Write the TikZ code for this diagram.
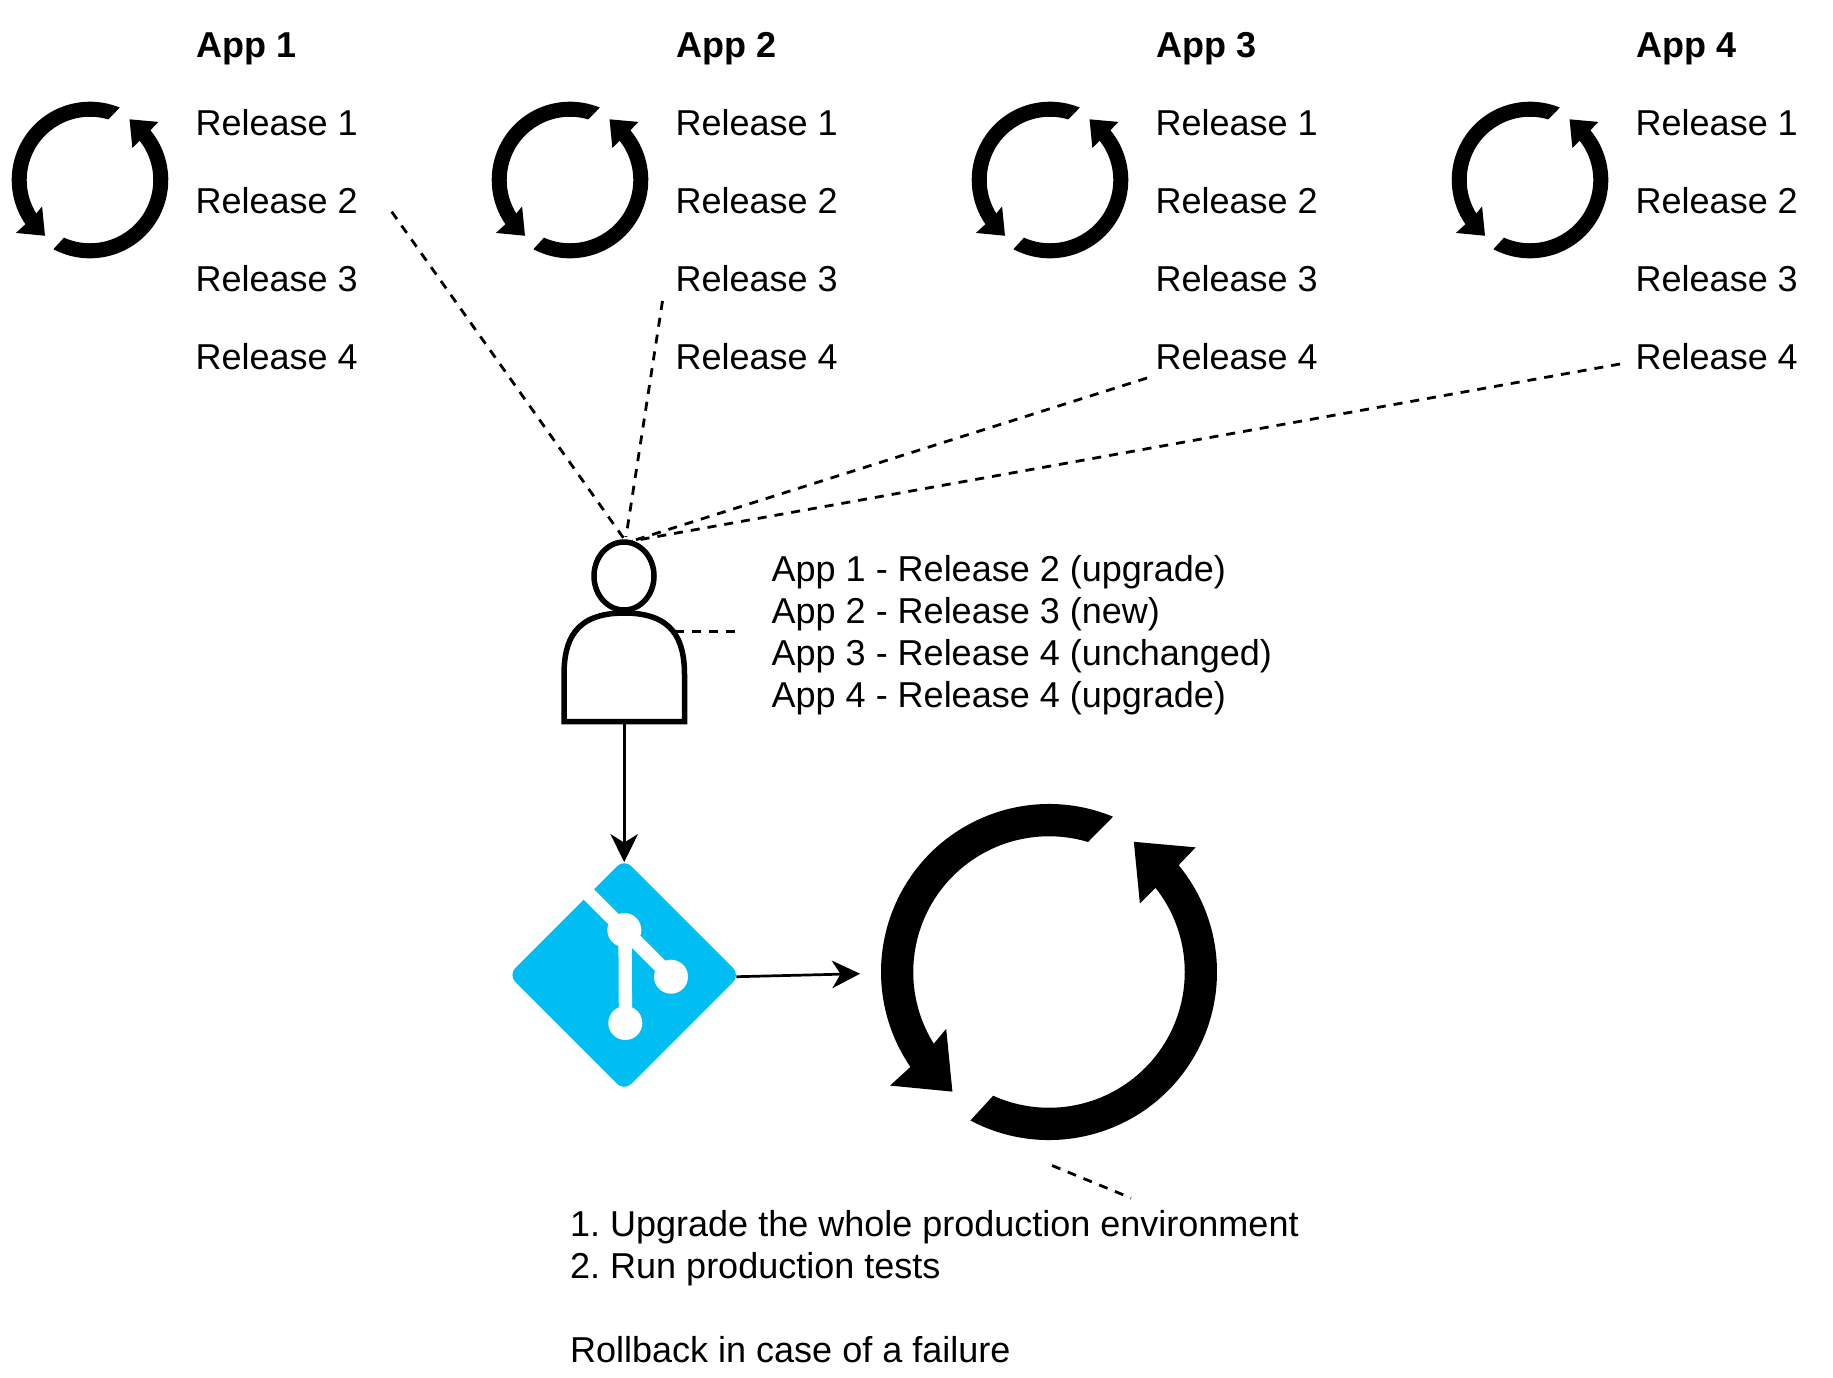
\documentclass[tikz,border=0pt]{standalone}
\usepackage{fontspec}
\setmainfont{Liberation Sans}
\usetikzlibrary{arrows.meta,shapes.geometric}
\definecolor{gitblue}{RGB}{0,190,242}
\newcommand{\cycleicon}[3]{%
  \pgfmathsetmacro{\rin}{0.808*#3}%
  \begin{scope}[shift={(#1,#2)},x=#3pt,y=#3pt]
    \fill (67.6:1) arc[start angle=67.6,end angle=214.4,radius=#3pt]
      -- (-.946,-.676) -- (-.575,-.712) -- (-.612,-.338)
      -- (211.9:.808) arc[start angle=211.9,end angle=73.3,radius=\rin pt] -- cycle;
    \fill (242.1:1) arc[start angle=242.1,end angle=399.5,radius=#3pt]
      -- (.873,.742) -- (.505,.775) -- (.541,.408)
      -- (38.3:.808) arc[start angle=38.3,end angle=-114.3,radius=\rin pt] -- cycle;
  \end{scope}}
\tikzset{
  label text/.style={anchor=base west,inner sep=0pt,font=\fontsize{36}{42}\selectfont},
  head text/.style={label text,font=\fontsize{36}{42}\selectfont\bfseries},
  block text/.style={anchor=north west,inner sep=0pt,align=left,font=\fontsize{36}{42}\selectfont\frenchspacing},
  note line/.style={line width=2.8pt,dash pattern=on 9pt off 8pt},
  flow line/.style={line width=2.7pt,-{Stealth[length=28pt,width=27.5pt,inset=8.5pt]}},
  person line/.style={line width=5.5pt,line join=miter}
}
\begin{document}
\begin{tikzpicture}[x=1pt,y=-1pt]
\useasboundingbox (0,0) rectangle (1833,1377);
% columns
\foreach \n/\tx/\ax/\cx in {1/195.5/196/90,2/675.5/676/570,3/1155.5/1156/1050,4/1635.5/1636/1530}{
  \cycleicon{\cx}{180}{78.3}
  \node[head text] (app\n) at (\ax,57.7) {App \n};
  \foreach \r/\by in {1/135.3,2/213.7,3/291.7,4/369.3}{
    \node[label text] (rel\n\r) at (\tx,\by) {Release \r};
  }
}
% free ends of the dashed connectors
\coordinate (d1) at (391.7,211.7);
\coordinate (d2) at (662.5,301);
\coordinate (d3) at (1147,378);
\coordinate (d4) at (1620,364);
\coordinate (p1) at (623.5,538);
\coordinate (p2) at (626,537);
\coordinate (p3) at (632,541);
\coordinate (p4) at (632,541);
\coordinate (s1) at (675,631.7);
\coordinate (s2) at (736.7,631.7);
\coordinate (b1) at (1052,1165.5);
\coordinate (b2) at (1131,1198);
\draw[note line] (d1) -- (p1);
\draw[note line] (d2) -- (p2);
\draw[note line] (d3) -- (p3);
\draw[note line] (d4) -- (p4);
\draw[note line] (s1) -- (s2);
\draw[note line] (b1) -- (b2);
% person
\node[minimum width=120.5pt,minimum height=180pt,inner sep=0pt] (person) at (624.2,631.5) {};
\draw[person line] (624,576) ellipse[x radius=30,y radius=34];
\draw[person line] (564,721.5) -- (564,675) .. controls (564,640) and (575,613) .. (624.2,613)
  .. controls (673.4,613) and (684.5,640) .. (684.5,675) -- (684.5,721.5) -- cycle;
% git logo
\node[diamond,aspect=1,fill=gitblue,rounded corners=10pt,minimum width=232pt,minimum height=232pt,inner sep=0pt] (git) at (624.2,975) {};
\draw[white,line width=14.5pt] (588,893.5) -- (671,976.7);
\draw[white,line width=13.3pt] (625,930) -- (625.5,1023);
\fill[white] (624.3,930) circle[radius=17];
\fill[white] (671,976.7) circle[radius=17];
\fill[white] (625.3,1023) circle[radius=17];
% big cycle
\node[circle,minimum size=336pt,inner sep=0pt] (cyc) at (1049,972) {};
\cycleicon{1049}{972}{168}
% flow
\draw[flow line,shorten >=-3.3pt] (person.south) -- (git.north);
\draw[flow line] ([shift={(-4,1.7)}]git.east) -- ([shift={(-20.7,1.7)}]cyc.west);
% texts
\node[block text] (plan) at (771.5,555.3) {App 1 - Release 2 (upgrade)\\App 2 - Release 3 (new)\\App 3 - Release 4 (unchanged)\\App 4 - Release 4 (upgrade)};
\node[block text] (steps) at (570,1210) {1. Upgrade the whole production environment\\2. Run production tests\\[42pt]Rollback in case of a failure};
\end{tikzpicture}
\end{document}
